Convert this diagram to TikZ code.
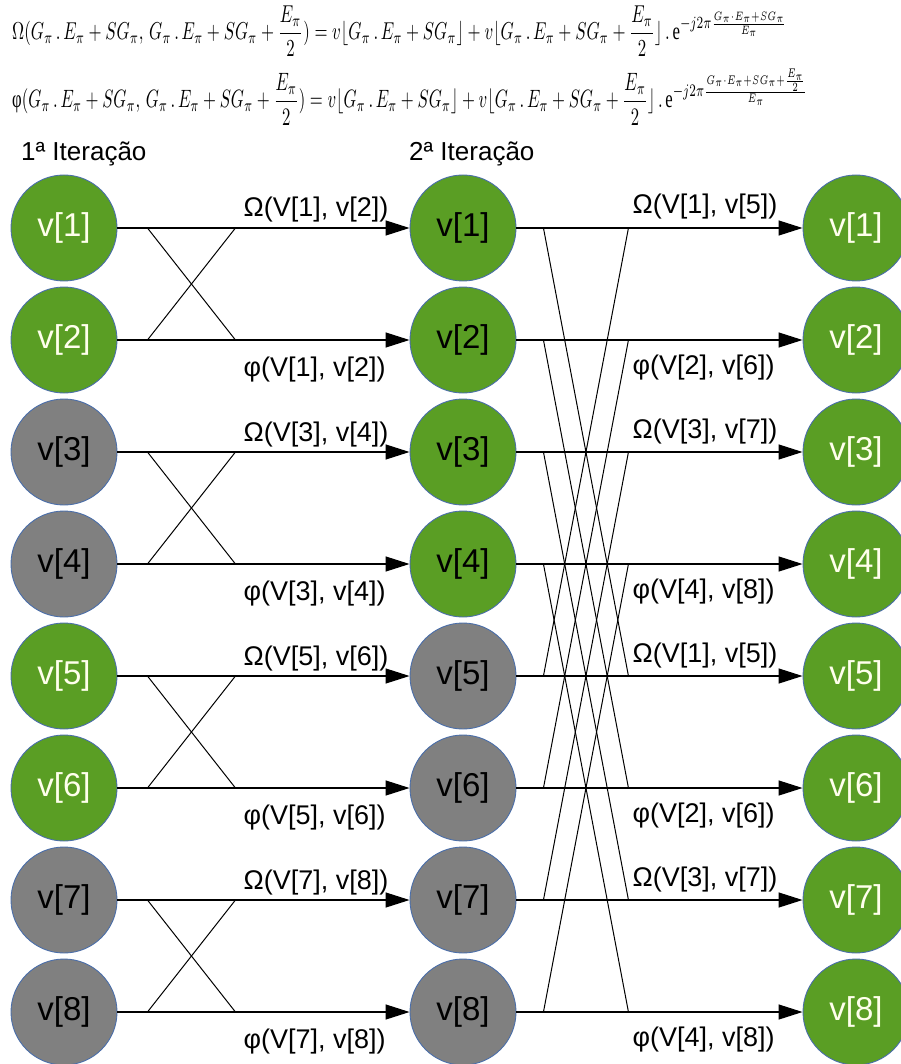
\documentclass[tikz,border=0pt]{standalone}
\usepackage{amsmath}
\usepackage{graphicx}
\usepackage{fontspec}
\setmainfont{Liberation Sans}
\newfontfamily\phifont{Liberation Serif}
\usetikzlibrary{arrows.meta,calc}
\definecolor{vgreen}{RGB}{90,158,36}
\definecolor{vgray}{RGB}{128,128,128}
\definecolor{vedge}{RGB}{74,110,170}
\definecolor{vlight}{RGB}{255,255,236}
\newcommand{\Gp}{G_{\pi}}
\newcommand{\Ep}{E_{\pi}}
\newcommand{\SGp}{SG_{\pi}}
\newcommand{\eul}{\text{\phifont e}}

\begin{document}
\begin{tikzpicture}[x=1pt,y=-1pt,
  vnode/.style={circle,draw=vedge,line width=0.9pt,minimum size=106pt,inner sep=0pt,
    font=\fontsize{33}{36}\selectfont},
  flow/.style={line width=1.2pt,-{Triangle[length=24pt,width=15pt]}},
  cross/.style={line width=1pt},
  lbl/.style={font=\fontsize{27}{30}\selectfont,inner sep=0pt,anchor=base west},
  ttl/.style={font=\fontsize{26}{30}\selectfont,inner sep=0pt,anchor=base west}]

  \useasboundingbox (0,0) rectangle (900,1064);

  % formulas
  \node[anchor=north west,inner sep=0pt] (f1) at (12,6) {\resizebox*{775pt}{50pt}{$\displaystyle
    \Omega(\Gp\,.\,\Ep+\SGp,\,\Gp\,.\,\Ep+\SGp+\frac{\Ep}{2})=v\lfloor \Gp\,.\,\Ep+\SGp\rfloor
    +v\lfloor \Gp\,.\,\Ep+\SGp+\frac{\Ep}{2}\rfloor\,.\,\eul^{-j2\pi\frac{\Gp\cdot\Ep+\SGp}{\Ep}}$}};
  \node[anchor=north west,inner sep=0pt] (f2) at (12,69) {\resizebox*{796pt}{56pt}{$\displaystyle
    \text{\phifont φ}(\Gp\,.\,\Ep+\SGp,\,\Gp\,.\,\Ep+\SGp+\frac{\Ep}{2})=v\lfloor \Gp\,.\,\Ep+\SGp\rfloor
    +v\lfloor \Gp\,.\,\Ep+\SGp+\frac{\Ep}{2}\rfloor\,.\,\eul^{-j2\pi\frac{\Gp\cdot\Ep+\SGp+\frac{\Ep}{2}}{\Ep}}$}};

  % titles
  \node[ttl] (t1) at (21,161) {1ª Iteração};
  \node[ttl] (t2) at (409,161) {2ª Iteração};

  % nodes
  \foreach \i/\fc/\tc in {1/vgreen/vlight,2/vgreen/vlight,3/vgray/black,4/vgray/black,
                          5/vgreen/vlight,6/vgreen/vlight,7/vgray/black,8/vgray/black}
    \node[vnode,fill=\fc,text=\tc] (l\i) at (64,{228+112*(\i-1)}) {v[\i]};
  \foreach \i/\fc in {1/vgreen,2/vgreen,3/vgreen,4/vgreen,5/vgray,6/vgray,7/vgray,8/vgray}
    \node[vnode,fill=\fc] (m\i) at (463,{228+112*(\i-1)}) {v[\i]};
  \foreach \i in {1,...,8}
    \node[vnode,fill=vgreen,text=vlight] (r\i) at (856,{228+112*(\i-1)}) {v[\i]};

  % arrows
  \foreach \i in {1,...,8} {
    \draw[flow] (l\i) -- (m\i);
    \draw[flow] (m\i) -- (r\i);
  }

  % 1st stage crossings
  \foreach \i/\j in {1/2,3/4,5/6,7/8} {
    \draw[cross] ($(l\i.east)+(30,0)$) -- ($(l\j.east)+(118,0)$);
    \draw[cross] ($(l\j.east)+(30,0)$) -- ($(l\i.east)+(118,0)$);
  }
  % 2nd stage crossings
  \foreach \i/\j in {1/5,2/6,3/7,4/8} {
    \draw[cross] ($(m\i.east)+(27,0)$) -- ($(m\j.east)+(112,0)$);
    \draw[cross] ($(m\j.east)+(27,0)$) -- ($(m\i.east)+(112,0)$);
  }

  % labels
  \foreach \i/\a/\b in {1/1/2,3/3/4,5/5/6,7/7/8}
    \node[lbl] (lo\i) at ($(l\i.east)+(126,-11)$) {Ω(V[\a], v[\b])};
  \foreach \i/\a/\b in {2/1/2,4/3/4,6/5/6,8/7/8}
    \node[lbl] (lo\i) at ($(l\i.east)+(126,36)$) {φ(V[\a], v[\b])};
  \foreach \i/\a/\b in {1/1/5,3/3/7,5/1/5,7/3/7}
    \node[lbl] (mo\i) at ($(m\i.east)+(116,-14)$) {Ω(V[\a], v[\b])};
  \foreach \i/\a/\b in {2/2/6,4/4/8,6/2/6,8/4/8}
    \node[lbl] (mo\i) at ($(m\i.east)+(116,34)$) {φ(V[\a], v[\b])};
\end{tikzpicture}
\end{document}
